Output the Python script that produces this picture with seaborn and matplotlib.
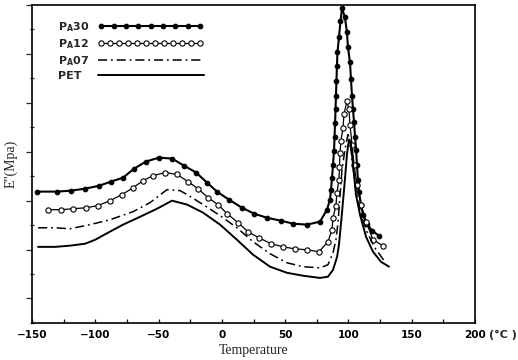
import matplotlib
matplotlib.use('Agg')
import matplotlib.pyplot as plt
import seaborn as sns
from matplotlib.legend_handler import HandlerLine2D
from matplotlib.ticker import MultipleLocator

# Valeurs (E'' en unites arbitraires)
t_pa30 = [-146.1, -130.3, -119.2, -108.1, -97.1, -87.6, -78.1, -69.4, -60.0, -49.7,
          -39.4, -29.9, -20.4, -11.8, -3.9, 5.6, 15.9, 25.4, 35.6, 46.7,
          56.2, 67.2, 77.5, 83.0, 85.4, 86.2, 87.0, 87.8, 88.6, 89.0,
          89.4, 89.8, 90.1, 90.5, 90.9, 91.3, 92.5, 93.7, 94.9, 97.2,
          98.8, 99.6, 101.2, 102.0, 102.8, 103.6, 104.4, 105.2, 106.0, 106.7,
          107.5, 108.3, 109.9, 111.5, 114.6, 118.6, 124.1]
e_pa30 = [5.37, 5.37, 5.41, 5.49, 5.61, 5.78, 5.94, 6.31, 6.60, 6.76,
          6.72, 6.43, 6.15, 5.74, 5.37, 5.04, 4.71, 4.47, 4.30, 4.18,
          4.06, 4.02, 4.14, 4.63, 5.04, 5.45, 5.94, 6.47, 7.05, 7.62,
          8.16, 8.73, 9.26, 9.88, 10.49, 11.07, 11.68, 12.34, 12.87, 12.50,
          11.89, 11.27, 10.66, 9.96, 9.26, 8.73, 8.20, 7.62, 7.09, 6.47,
          5.86, 5.37, 4.84, 4.43, 4.06, 3.77, 3.57]

t_pa12 = [-137.4, -127.1, -117.6, -107.3, -97.9, -88.4, -78.9, -70.2, -62.3, -54.4,
          -44.9, -35.4, -26.8, -18.9, -11.0, -3.1, 4.0, 12.7, 20.6, 29.3,
          38.8, 48.3, 57.7, 67.2, 76.7, 83.8, 87.0, 87.8, 90.1, 90.9,
          92.5, 92.9, 93.3, 94.1, 95.7, 96.5, 98.8, 100.4, 101.2, 102.8,
          104.4, 106.7, 109.9, 113.9, 119.4, 127.3]
e_pa12 = [4.63, 4.63, 4.67, 4.71, 4.80, 5.00, 5.25, 5.53, 5.82, 6.02,
          6.15, 6.07, 5.78, 5.49, 5.12, 4.84, 4.47, 4.10, 3.73, 3.48,
          3.24, 3.11, 3.03, 2.99, 2.91, 3.32, 3.81, 4.30, 4.80, 5.33,
          5.86, 6.39, 6.93, 7.46, 7.99, 8.56, 9.06, 8.73, 8.11, 7.29,
          6.47, 5.65, 4.84, 4.14, 3.40, 3.16]

t_pa07 = [-145.3, -131.8, -120.0, -104.2, -88.4, -70.2, -56.8, -43.4, -33.1, -27.6,
          -14.9, -1.5, 11.9, 24.6, 38.0, 51.4, 64.1, 77.5, 83.8, 87.8,
          90.1, 91.7, 93.3, 94.9, 97.2, 99.6, 101.2, 102.8, 105.9, 109.9,
          114.6, 120.9, 128.8]
e_pa07 = [3.89, 3.89, 3.85, 4.02, 4.22, 4.55, 4.92, 5.45, 5.41, 5.25,
          4.84, 4.39, 3.89, 3.32, 2.83, 2.46, 2.30, 2.25, 2.38, 2.87,
          3.40, 4.10, 5.16, 6.27, 7.09, 7.70, 7.50, 6.68, 5.45, 4.43,
          3.73, 3.07, 2.50]

t_pet = [-145.3, -131.8, -120.0, -108.1, -100.2, -90.0, -78.1, -64.7, -51.3, -39.4,
         -27.6, -14.9, -1.5, 11.9, 24.6, 38.0, 51.4, 64.1, 77.5, 83.8,
         87.8, 91.0, 92.5, 94.9, 97.2, 98.8, 100.4, 102.0, 103.6, 105.9,
         109.1, 113.9, 119.4, 125.7, 132.0]
e_pet = [3.11, 3.11, 3.16, 3.24, 3.40, 3.69, 4.02, 4.34, 4.67, 5.00,
         4.84, 4.51, 4.02, 3.40, 2.79, 2.30, 2.05, 1.93, 1.84, 1.89,
         2.17, 2.70, 3.20, 4.51, 5.86, 6.89, 7.50, 7.30, 6.47, 5.25,
         4.43, 3.52, 2.91, 2.50, 2.30]

x_ticks = [-150, -100, -50, 0, 50, 100, 150, 200]
x_tick_labels = ['−150', '−100', '−50', '0', '50', '100', '150', '200']

sns.set_style('ticks')
fig = plt.figure(figsize=(5.18, 3.6), dpi=100)
ax = fig.add_axes([0.062, 0.103, 0.855, 0.883])

common = dict(ax=ax, sort=False, estimator=None, color='black')
sns.lineplot(x=t_pa30, y=e_pa30, marker='o', markersize=3.3, mfc='black', mec='black',
             mew=0.8, lw=1.5, label=r'P$_\mathbf{A}$30', **common)
sns.lineplot(x=t_pa12, y=e_pa12, marker='o', markersize=3.8, mfc='white', mec='black',
             mew=0.8, lw=0.9, label=r'P$_\mathbf{A}$12', **common)
sns.lineplot(x=t_pa07, y=e_pa07, lw=1.1, linestyle=(0, (6, 2.5, 1.2, 2.5)),
             label=r'P$_\mathbf{A}$07', **common)
sns.lineplot(x=t_pet, y=e_pet, lw=1.4, label='PET', **common)

ax.set_xlim(-150, 200)
ax.set_ylim(0, 13)
ax.set_xticks(x_ticks)
ax.set_xticklabels(x_tick_labels, fontweight='bold', fontsize=7.5)
ax.xaxis.set_minor_locator(MultipleLocator(25))
ax.yaxis.set_major_locator(MultipleLocator(2, offset=1))
ax.yaxis.set_minor_locator(MultipleLocator(1))
ax.set_yticklabels([])
ax.tick_params(axis='x', which='both', direction='in', length=3, width=0.9, pad=5, colors='black')
ax.tick_params(axis='y', which='major', direction='out', length=4, width=0.9)
ax.tick_params(axis='y', which='minor', direction='inout', length=3, width=0.9)
for s in ax.spines.values():
    s.set_visible(True)
    s.set_linewidth(1.2)
    s.set_color('black')

ax.set_xlabel('Temperature', family='Liberation Serif', fontsize=10, labelpad=3)
ax.set_ylabel("E''(Mpa)", family='Liberation Serif', fontsize=10, labelpad=3)
ax.annotate('(°C )', xy=(1, 0), xycoords='axes fraction', xytext=(10, -5),
            textcoords='offset points', va='top', ha='left', fontsize=8, fontweight='bold')

handles, labels = ax.get_legend_handles_labels()
hmap = {handles[0]: HandlerLine2D(numpoints=9), handles[1]: HandlerLine2D(numpoints=12)}
leg = ax.legend(handles, labels, handler_map=hmap, loc='upper left',
                bbox_to_anchor=(0.035, 0.985), frameon=False, markerfirst=False,
                handlelength=9.5, handletextpad=0.8, labelspacing=0.3,
                prop={'weight': 'bold', 'size': 8})

# texte a gauche, traits alignes sur une meme colonne comme sur l'original
fig.canvas.draw()
widths = [t.get_window_extent().width for t in leg.get_texts()]
wmax = max(widths)
rows = []
for col in leg._legend_handle_box.get_children():
    col.align = 'left'
    rows.extend(col.get_children())
for row, w in zip(rows, widths):
    row.sep = row.sep + (wmax - w) * 72 / fig.dpi

fig.savefig('out.png', dpi=100)
